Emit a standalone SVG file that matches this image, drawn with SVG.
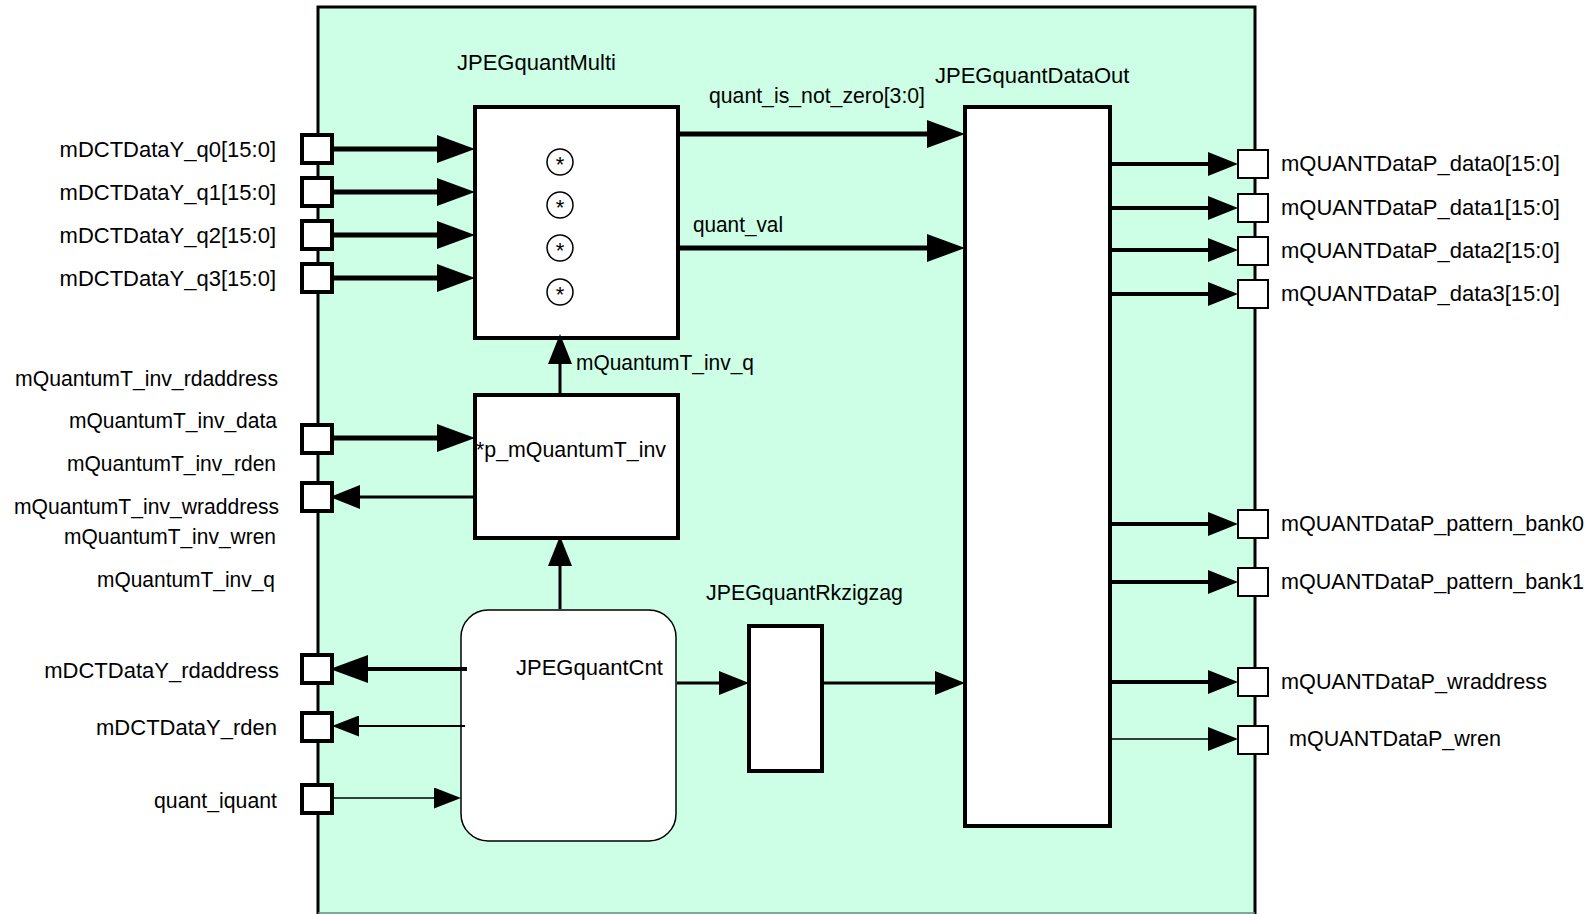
<svg xmlns="http://www.w3.org/2000/svg" width="1592" height="914" viewBox="0 0 1592 914">
  <style>
    text { font-family: "Liberation Sans", Arial, sans-serif; font-size: 22px; fill: #000; }
    .lbl-r { text-anchor: end; }
    .blk { fill: #fff; stroke: #000; stroke-width: 4; }
    .pin-l { fill: #fff; stroke: #000; stroke-width: 4; }
    .pin-r { fill: #fff; stroke: #000; stroke-width: 2; }
    .w5 { stroke: #000; stroke-width: 5; fill: none; }
    .w4 { stroke: #000; stroke-width: 4; fill: none; }
    .w3 { stroke: #000; stroke-width: 3; fill: none; }
    .w2 { stroke: #000; stroke-width: 2; fill: none; }
    .w1 { stroke: #000; stroke-width: 1.5; fill: none; }
    .op { fill: #fff; stroke: #000; stroke-width: 1.5; }
  </style>
  <defs>
    <!-- arrowheads drawn forward from the line end (refX = 0) -->
    <marker id="ahL" markerUnits="userSpaceOnUse" markerWidth="38" markerHeight="28" refX="0" refY="14" orient="auto">
      <path d="M0,0 L38,14 L0,28 Z" fill="#000"/>
    </marker>
    <marker id="ahM" markerUnits="userSpaceOnUse" markerWidth="30" markerHeight="24" refX="0" refY="12" orient="auto">
      <path d="M0,0 L30,12 L0,24 Z" fill="#000"/>
    </marker>
    <marker id="ahS" markerUnits="userSpaceOnUse" markerWidth="27" markerHeight="21" refX="0" refY="10.5" orient="auto">
      <path d="M0,0 L27,10.5 L0,21 Z" fill="#000"/>
    </marker>
  </defs>

  <!-- enclosing module -->
  <g id="JPEGquant">
    <path d="M318,914 L318,7 L1255,7 L1255,914" fill="#CCFFE5" stroke="#000" stroke-width="3"/>
    <line x1="318" y1="913" x2="1255" y2="913" stroke="#6a8a7a" stroke-width="1.5"/>
  </g>

  <!-- sub-blocks -->
  <g id="JPEGquantMulti">
    <text x="457" y="70">JPEGquantMulti</text>
    <rect class="blk" x="475" y="107" width="203" height="231"/>
    <g class="op">
      <circle cx="560" cy="162" r="13"/>
      <circle cx="560" cy="205" r="13"/>
      <circle cx="560" cy="248" r="13"/>
      <circle cx="560" cy="292" r="13"/>
    </g>
    <g style="font-size:16px" text-anchor="middle">
      <text x="560" y="172">*</text>
      <text x="560" y="215">*</text>
      <text x="560" y="258">*</text>
      <text x="560" y="302">*</text>
    </g>
  </g>

  <g id="p_mQuantumT_inv">
    <rect class="blk" x="475" y="395" width="203" height="143"/>
    <text x="476" y="457" textLength="190" lengthAdjust="spacingAndGlyphs">*p_mQuantumT_inv</text>
  </g>

  <g id="JPEGquantCnt">
    <rect x="461" y="610" width="215" height="231" rx="27" ry="27" fill="#fff" stroke="#000" stroke-width="1.5"/>
    <text x="516" y="675">JPEGquantCnt</text>
  </g>

  <g id="JPEGquantRkzigzag">
    <text x="706" y="600" textLength="197" lengthAdjust="spacingAndGlyphs">JPEGquantRkzigzag</text>
    <rect class="blk" x="749" y="626" width="73" height="145"/>
  </g>

  <g id="JPEGquantDataOut">
    <text x="935" y="83">JPEGquantDataOut</text>
    <rect class="blk" x="965" y="107" width="145" height="719"/>
  </g>

  <!-- connectors -->
  <g id="connectors">
    <!-- inputs to JPEGquantMulti -->
    <path class="w5" d="M332,149 H437" marker-end="url(#ahL)"/>
    <path class="w5" d="M332,192 H437" marker-end="url(#ahL)"/>
    <path class="w5" d="M332,235 H437" marker-end="url(#ahL)"/>
    <path class="w5" d="M332,278 H437" marker-end="url(#ahL)"/>
    <!-- JPEGquantMulti to JPEGquantDataOut -->
    <path class="w5" d="M680,134 H927" marker-end="url(#ahL)"/>
    <path class="w5" d="M680,248 H927" marker-end="url(#ahL)"/>
    <!-- coefficient table -->
    <path class="w5" d="M332,438 H437" marker-end="url(#ahL)"/>
    <path class="w3" d="M473,497 H360" marker-end="url(#ahM)"/>
    <path class="w3" d="M560,393 V364" marker-end="url(#ahM)"/>
    <path class="w3" d="M560,609 V566" marker-end="url(#ahM)"/>
    <!-- JPEGquantCnt ports -->
    <path class="w4" d="M467,669 H368" marker-end="url(#ahL)"/>
    <path class="w2" d="M465,726 H359" marker-end="url(#ahS)"/>
    <path class="w1" d="M332,798 H434" marker-end="url(#ahS)"/>
    <!-- counter chain -->
    <path class="w3" d="M677,683 H719" marker-end="url(#ahM)"/>
    <path class="w3" d="M824,683 H935" marker-end="url(#ahM)"/>
    <!-- JPEGquantDataOut outputs -->
    <path class="w4" d="M1112,164 H1208" marker-end="url(#ahM)"/>
    <path class="w4" d="M1112,208 H1208" marker-end="url(#ahM)"/>
    <path class="w4" d="M1112,250 H1208" marker-end="url(#ahM)"/>
    <path class="w4" d="M1112,294 H1208" marker-end="url(#ahM)"/>
    <path class="w4" d="M1112,524 H1208" marker-end="url(#ahM)"/>
    <path class="w4" d="M1112,582 H1208" marker-end="url(#ahM)"/>
    <path class="w4" d="M1112,682 H1208" marker-end="url(#ahM)"/>
    <path class="w1" d="M1112,739 H1208" marker-end="url(#ahM)"/>
  </g>

  <!-- signal labels -->
  <g id="signal-labels">
    <text x="709" y="103" textLength="216" lengthAdjust="spacingAndGlyphs">quant_is_not_zero[3:0]</text>
    <text x="693" y="232" textLength="90" lengthAdjust="spacingAndGlyphs">quant_val</text>
    <text x="576" y="370" textLength="178" lengthAdjust="spacingAndGlyphs">mQuantumT_inv_q</text>
  </g>

  <!-- input/output pins on the left -->
  <g id="left-pins">
    <rect class="pin-l" x="302" y="135" width="30" height="28"/>
    <rect class="pin-l" x="302" y="178" width="30" height="28"/>
    <rect class="pin-l" x="302" y="221" width="30" height="28"/>
    <rect class="pin-l" x="302" y="264" width="30" height="28"/>
    <rect class="pin-l" x="302" y="425" width="30" height="28"/>
    <rect class="pin-l" x="302" y="483" width="30" height="28"/>
    <rect class="pin-l" x="302" y="655" width="30" height="28"/>
    <rect class="pin-l" x="302" y="713" width="30" height="28"/>
    <rect class="pin-l" x="302" y="785" width="30" height="28"/>
  </g>
  <g id="left-labels" class="lbl-r">
    <text x="276" y="157">mDCTDataY_q0[15:0]</text>
    <text x="276" y="200">mDCTDataY_q1[15:0]</text>
    <text x="276" y="243">mDCTDataY_q2[15:0]</text>
    <text x="276" y="286">mDCTDataY_q3[15:0]</text>
    <text x="278" y="386" textLength="263" lengthAdjust="spacingAndGlyphs">mQuantumT_inv_rdaddress</text>
    <text x="277" y="428" textLength="208" lengthAdjust="spacingAndGlyphs">mQuantumT_inv_data</text>
    <text x="276" y="471" textLength="209" lengthAdjust="spacingAndGlyphs">mQuantumT_inv_rden</text>
    <text x="279" y="514" textLength="265" lengthAdjust="spacingAndGlyphs">mQuantumT_inv_wraddress</text>
    <text x="276" y="544" textLength="212" lengthAdjust="spacingAndGlyphs">mQuantumT_inv_wren</text>
    <text x="275" y="587" textLength="178" lengthAdjust="spacingAndGlyphs">mQuantumT_inv_q</text>
    <text x="279" y="678">mDCTDataY_rdaddress</text>
    <text x="277" y="735">mDCTDataY_rden</text>
    <text x="277" y="808" textLength="123" lengthAdjust="spacingAndGlyphs">quant_iquant</text>
  </g>

  <!-- output pins on the right -->
  <g id="right-pins">
    <rect class="pin-r" x="1238" y="150" width="30" height="28"/>
    <rect class="pin-r" x="1238" y="194" width="30" height="28"/>
    <rect class="pin-r" x="1238" y="237" width="30" height="28"/>
    <rect class="pin-r" x="1238" y="280" width="30" height="28"/>
    <rect class="pin-r" x="1238" y="510" width="30" height="28"/>
    <rect class="pin-r" x="1238" y="568" width="30" height="28"/>
    <rect class="pin-r" x="1238" y="668" width="30" height="28"/>
    <rect class="pin-r" x="1238" y="726" width="30" height="28"/>
  </g>
  <g id="right-labels">
    <text x="1281" y="171">mQUANTDataP_data0[15:0]</text>
    <text x="1281" y="215">mQUANTDataP_data1[15:0]</text>
    <text x="1281" y="258">mQUANTDataP_data2[15:0]</text>
    <text x="1281" y="301">mQUANTDataP_data3[15:0]</text>
    <text x="1281" y="531" textLength="303" lengthAdjust="spacingAndGlyphs">mQUANTDataP_pattern_bank0</text>
    <text x="1281" y="589" textLength="303" lengthAdjust="spacingAndGlyphs">mQUANTDataP_pattern_bank1</text>
    <text x="1281" y="689" textLength="266" lengthAdjust="spacingAndGlyphs">mQUANTDataP_wraddress</text>
    <text x="1289" y="746" textLength="212" lengthAdjust="spacingAndGlyphs">mQUANTDataP_wren</text>
  </g>
</svg>
